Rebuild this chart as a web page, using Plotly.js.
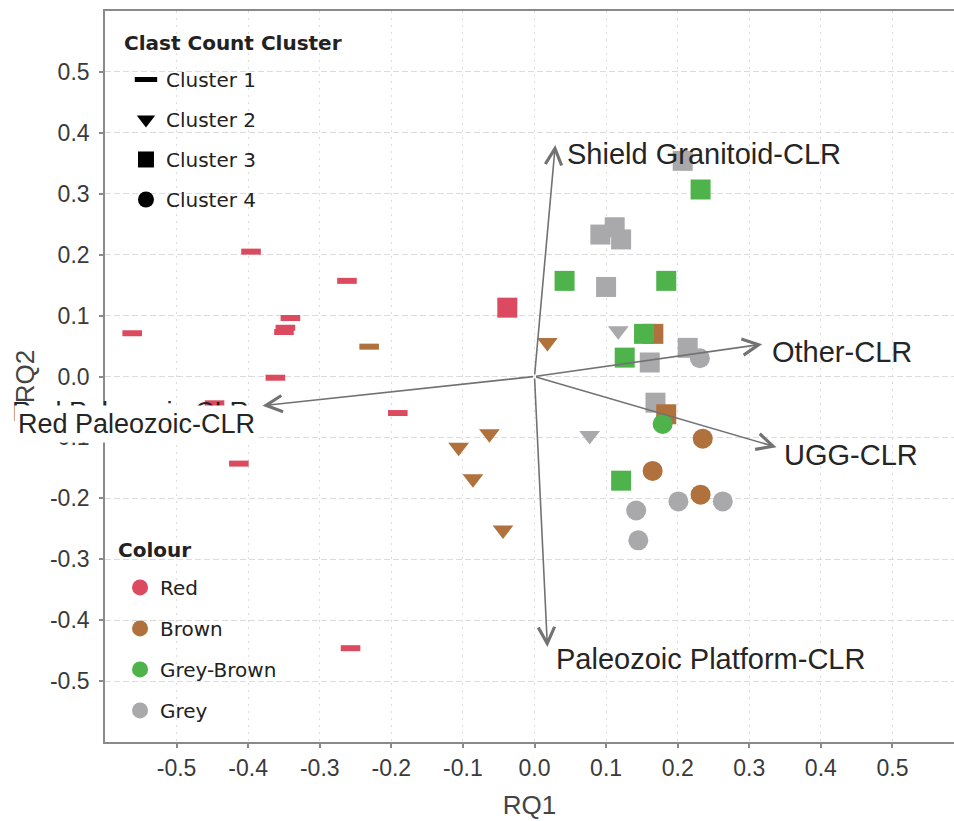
<!DOCTYPE html>
<html>
<head>
<meta charset="utf-8">
<script src="https://cdn.plot.ly/plotly-3.0.1.min.js"></script>
<style>
  html, body { margin: 0; padding: 0; background: #ffffff; }
  #chart { width: 954px; height: 821px; }
</style>
</head>
<body>
<div id="chart"></div>
<script>
// RQ-mode biplot of clast counts: sample scores by cluster and colour, with CLR loading arrows.

// ---- sample scores, one set of arrays per clast count cluster ----
const cluster1Colour = ['Red', 'Red', 'Red', 'Red', 'Red', 'Red', 'Red', 'Red', 'Red', 'Red', 'Red', 'Brown'];
const cluster1RQ1 = [-0.396, -0.262, -0.562, -0.341, -0.350, -0.348, -0.362, -0.447, -0.191, -0.413, -0.257, -0.231];
const cluster1RQ2 = [0.205, 0.157, 0.071, 0.096, 0.073, 0.080, -0.002, -0.044, -0.060, -0.143, -0.446, 0.049];

const cluster2Colour = ['Brown', 'Brown', 'Brown', 'Brown', 'Brown', 'Grey', 'Grey'];
const cluster2RQ1 = [0.018, -0.106, -0.063, -0.086, -0.044, 0.117, 0.077];
const cluster2RQ2 = [0.056, -0.116, -0.094, -0.168, -0.252, 0.075, -0.097];

const cluster3Colour = ['Grey', 'Grey', 'Grey', 'Grey', 'Grey', 'Grey', 'Grey', 'Grey',
                        'Brown', 'Brown',
                        'Grey-Brown', 'Grey-Brown', 'Grey-Brown', 'Grey-Brown', 'Grey-Brown', 'Grey-Brown',
                        'Red'];
const cluster3RQ1 = [0.207, 0.092, 0.112, 0.121, 0.100, 0.161, 0.214, 0.169,
                     0.166, 0.184,
                     0.232, 0.042, 0.184, 0.153, 0.126, 0.121,
                     -0.038];
const cluster3RQ2 = [0.354, 0.233, 0.245, 0.225, 0.147, 0.023, 0.047, -0.043,
                     0.070, -0.062,
                     0.307, 0.157, 0.157, 0.070, 0.031, -0.171,
                     0.113];

const cluster4Colour = ['Grey', 'Grey', 'Grey', 'Grey', 'Grey', 'Brown', 'Brown', 'Brown', 'Grey-Brown'];
const cluster4RQ1 = [0.231, 0.142, 0.201, 0.263, 0.145, 0.235, 0.165, 0.232, 0.179];
const cluster4RQ2 = [0.030, -0.220, -0.205, -0.205, -0.269, -0.102, -0.155, -0.194, -0.078];

// ---- CLR loadings (arrow tips) ----
const loadingName = ['Shield Granitoid-CLR', 'Other-CLR', 'UGG-CLR', 'Paleozoic Platform-CLR', 'Red Paleozoic-CLR'];
const loadingRQ1 = [0.029, 0.318, 0.338, 0.018, -0.380];
const loadingRQ2 = [0.380, 0.053, -0.116, -0.444, -0.048];

// ---- legend categories and axis ticks ----
const clusterNames = ['Cluster 1', 'Cluster 2', 'Cluster 3', 'Cluster 4'];
const colourNames = ['Red', 'Brown', 'Grey-Brown', 'Grey'];
const legendTitles = ['Clast Count Cluster', 'Colour'];
const tickValues = [-0.5, -0.4, -0.3, -0.2, -0.1, 0.0, 0.1, 0.2, 0.3, 0.4, 0.5];
const tickLabels = ['-0.5', '-0.4', '-0.3', '-0.2', '-0.1', '0.0', '0.1', '0.2', '0.3', '0.4', '0.5'];

// ---- styling ----
const palette = { 'Red': '#db4a5e', 'Brown': '#b0713c', 'Grey-Brown': '#4fb34c', 'Grey': '#a9a9ab' };
const clusterStyle = [
  { symbol: 'line-ew-open', size: 14, lineWidth: 6 },
  { symbol: 'triangle-down', size: 18, lineWidth: 0 },
  { symbol: 'square', size: 20, lineWidth: 0 },
  { symbol: 'circle', size: 20, lineWidth: 0 }
];
const legendStyle = [
  { symbol: 'line-ew-open', size: 16, lineWidth: 5 },
  { symbol: 'triangle-down', size: 16, lineWidth: 0 },
  { symbol: 'square', size: 16, lineWidth: 0 },
  { symbol: 'circle', size: 16, lineWidth: 0 }
];
const labelFont = { family: 'Liberation Sans, Arial, sans-serif', size: 29, color: '#252525' };
const redLabelFont = { family: 'Liberation Sans, Arial, sans-serif', size: 27, color: '#252525' };
const legendFont = { family: 'DejaVu Sans, sans-serif', size: 20, color: '#222222' };
const legendTitleFont = { family: 'DejaVu Sans, sans-serif', size: 20, color: '#222222', weight: 'bold' };

// legend panels (paper coords): white box, title position, item block position
const legendPanel = [
  { box: [0.006, 0.717, 0.286, 0.985], title: [0.0212, 0.9562], items: [0.0247, 0.9330] },
  { box: [0.000, 0.0096, 0.2273, 0.2928], title: [0.0141, 0.2627], items: [0.0177, 0.2381] }
];

const clusterData = [
  [cluster1Colour, cluster1RQ1, cluster1RQ2],
  [cluster2Colour, cluster2RQ1, cluster2RQ2],
  [cluster3Colour, cluster3RQ1, cluster3RQ2],
  [cluster4Colour, cluster4RQ1, cluster4RQ2]
];

const traces = [];

// sample score markers
clusterData.forEach(function (d, i) {
  const st = clusterStyle[i];
  const cols = d[0].map(function (c) { return palette[c]; });
  traces.push({
    type: 'scatter', mode: 'markers',
    x: d[1], y: d[2],
    name: clusterNames[i],
    text: d[0],
    showlegend: false,
    hovertemplate: clusterNames[i] + ' (%{text})<br>RQ1 %{x:.3f}<br>RQ2 %{y:.3f}<extra></extra>',
    marker: {
      symbol: st.symbol, size: st.size, color: cols,
      line: { width: st.lineWidth, color: cols }
    }
  });
});

// legend entries: cluster shapes
clusterNames.forEach(function (n, i) {
  const st = legendStyle[i];
  traces.push({
    type: 'scatter', mode: 'markers', x: [null], y: [null],
    name: n, legend: 'legend', legendgroup: 'shape' + i, showlegend: true,
    marker: { symbol: st.symbol, size: st.size, color: '#000000', line: { width: st.lineWidth, color: '#000000' } }
  });
});

// legend entries: colours
colourNames.forEach(function (n, i) {
  traces.push({
    type: 'scatter', mode: 'markers', x: [null], y: [null],
    name: n, legend: 'legend2', legendgroup: 'colour' + i, showlegend: true,
    marker: { symbol: 'circle', size: 16, color: palette[n] }
  });
});

// loading arrows from the origin
const annotations = [];
loadingName.forEach(function (n, i) {
  annotations.push({
    x: loadingRQ1[i], y: loadingRQ2[i], xref: 'x', yref: 'y',
    ax: 0, ay: 0, axref: 'x', ayref: 'y',
    text: ' ', font: { size: 1 },
    showarrow: true, arrowhead: 5, arrowsize: 2, arrowwidth: 1.6,
    arrowcolor: '#727272', standoff: 0, startstandoff: 0
  });
});

// loading labels next to each arrow tip
const labelPlacement = [
  { xanchor: 'left', xshift: 10, yshift: -9 },
  { xanchor: 'left', xshift: 8, yshift: -8 },
  { xanchor: 'left', xshift: 6, yshift: -8 },
  { xanchor: 'left', xshift: 7, yshift: -12 },
  { xanchor: 'right', xshift: -11, yshift: -6 }
];
loadingName.forEach(function (n, i) {
  const p = labelPlacement[i];
  annotations.push({
    x: loadingRQ1[i], y: loadingRQ2[i], xref: 'x', yref: 'y',
    text: n, showarrow: false,
    xanchor: p.xanchor, yanchor: 'middle', xshift: p.xshift, yshift: p.yshift,
    font: i === 4 ? redLabelFont : labelFont
  });
});

// repelled copy of the Red Paleozoic label on a white box
annotations.push({
  x: loadingRQ1[4], y: loadingRQ2[4], xref: 'x', yref: 'y',
  text: loadingName[4], showarrow: false,
  xanchor: 'right', yanchor: 'middle', xshift: -3, yshift: -18,
  bgcolor: '#ffffff', borderpad: 3,
  font: redLabelFont
});

// legend titles and their white panels
const shapes = [];
legendPanel.forEach(function (p, i) {
  shapes.push({
    type: 'rect', xref: 'paper', yref: 'paper', layer: 'between',
    x0: p.box[0], y0: p.box[1], x1: p.box[2], y1: p.box[3],
    fillcolor: '#ffffff', line: { width: 0 }
  });
  annotations.push({
    xref: 'paper', yref: 'paper', x: p.title[0], y: p.title[1],
    xanchor: 'left', yanchor: 'middle', xshift: -1,
    text: legendTitles[i], showarrow: false, font: legendTitleFont
  });
});

const tickFont = { family: 'Liberation Sans, Arial, sans-serif', size: 23, color: '#3a3a3a' };
const titleFont = { family: 'Liberation Sans, Arial, sans-serif', size: 26, color: '#444444' };

const legendCommon = {
  font: legendFont, bgcolor: 'rgba(0,0,0,0)', borderwidth: 0,
  xanchor: 'left', yanchor: 'top',
  traceorder: 'grouped', itemsizing: 'trace', itemwidth: 30
};

const layout = {
  width: 954, height: 821,
  margin: { l: 105, r: 0, t: 11, b: 79, pad: 0 },
  paper_bgcolor: '#ffffff', plot_bgcolor: '#ffffff',
  showlegend: true,
  xaxis: {
    range: [-0.6, 0.586], autorange: false,
    tickvals: tickValues, ticktext: tickLabels, tickfont: tickFont,
    ticks: 'outside', ticklen: 4, tickwidth: 1.5, tickcolor: '#8a8a8a',
    ticklabelstandoff: 1,
    showline: true, linecolor: '#8a8a8a', linewidth: 1.6, mirror: true,
    showgrid: true, gridcolor: '#dcdcdc', gridwidth: 1, griddash: '2px,5px',
    zeroline: false,
    title: { text: 'RQ1', font: titleFont, standoff: 15 }
  },
  yaxis: {
    range: [-0.6, 0.6], autorange: false,
    tickvals: tickValues, ticktext: tickLabels, tickfont: tickFont,
    ticks: 'outside', ticklen: 4, tickwidth: 1.5, tickcolor: '#8a8a8a',
    ticklabelstandoff: 5,
    showline: true, linecolor: '#8a8a8a', linewidth: 1.6, mirror: false,
    showgrid: true, gridcolor: '#dcdcdc', gridwidth: 1, griddash: '6px,3px',
    zeroline: false,
    title: { text: 'RQ2', font: titleFont, standoff: 8 }
  },
  legend: Object.assign({}, legendCommon, {
    x: legendPanel[0].items[0], y: legendPanel[0].items[1], tracegroupgap: 11
  }),
  legend2: Object.assign({}, legendCommon, {
    x: legendPanel[1].items[0], y: legendPanel[1].items[1], tracegroupgap: 12
  }),
  shapes: shapes,
  annotations: annotations
};

Plotly.newPlot('chart', traces, layout, { displayModeBar: false, responsive: false });
</script>
</body>
</html>
